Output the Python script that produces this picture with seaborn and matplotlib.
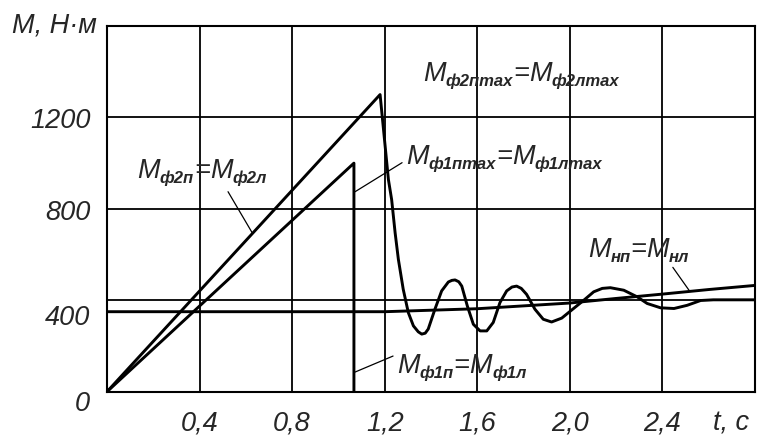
import matplotlib
matplotlib.use("Agg")
import matplotlib.pyplot as plt
import matplotlib.transforms as mtransforms
import seaborn as sns

# M_ф2: ramp, peak, then damped oscillation (t in s, M in N·m)
t_f2 = [0.0, 1.18, 1.216, 1.230, 1.245, 1.259, 1.280, 1.302, 1.324, 1.345, 1.360,
        1.375, 1.388, 1.417, 1.446, 1.475, 1.490, 1.504, 1.520, 1.533, 1.557, 1.583,
        1.612, 1.641, 1.669, 1.698, 1.727, 1.750, 1.770, 1.790, 1.813, 1.849, 1.885,
        1.921, 1.965, 2.016, 2.06, 2.103, 2.140, 2.175, 2.233, 2.291, 2.334, 2.392,
        2.45, 2.507, 2.565, 2.62, 2.8]
m_f2 = [0, 1300, 928, 840, 695, 579, 448, 346, 288, 262, 252,
        256, 274, 361, 441, 480, 487, 489, 481, 462, 375, 295,
        266, 266, 303, 390, 441, 458, 462, 452, 426, 361, 317,
        305, 322, 364, 400, 437, 452, 455, 444, 415, 386, 367,
        364, 378, 399, 402, 402]

# M_ф1: ramp then instant drop
t_f1 = [0.0, 1.067, 1.067]
m_f1 = [0, 1000, 0]

# M_н: load torque
t_n = [0.0, 0.4, 0.8, 1.2, 1.6, 2.0, 2.2, 2.4, 2.6, 2.8]
m_n = [350, 350, 350, 350, 363, 388, 408, 427, 447, 465]

x_ticks = [0.4, 0.8, 1.2, 1.6, 2.0, 2.4]
x_labels = ["0,4", "0,8", "1,2", "1,6", "2,0", "2,4"]
y_ticks = [0, 400, 800, 1200]
y_labels = ["0", "400", "800", "1200"]

FS = 19.5
SUB_FS = 12


def rich_label(ax, x, y, parts):
    # parts: list of (text, is_subscript); drawn one after another on one baseline
    fig = ax.figure
    renderer = fig.canvas.get_renderer()
    dx = 0.0
    for s, sub in parts:
        tr = mtransforms.offset_copy(ax.transData, fig=fig, x=dx, y=-5 if sub else 0,
                                     units="dots")
        t = ax.text(x, y, s, transform=tr, ha="left", va="baseline",
                    fontsize=SUB_FS if sub else FS,
                    fontweight="bold" if sub else "normal")
        dx += t.get_window_extent(renderer).width


def main():
    sns.set_style("white")
    plt.rcParams["font.family"] = ["Liberation Sans", "DejaVu Sans"]
    plt.rcParams["font.style"] = "italic"

    fig = plt.figure(figsize=(7.59, 4.39), dpi=100)
    ax = fig.add_axes([107 / 759, 1 - 392.7 / 439, 648 / 759, 365.7 / 439])

    lw = 2.1
    sns.lineplot(x=t_f2, y=m_f2, ax=ax, color="black", lw=lw, estimator=None, sort=False)
    sns.lineplot(x=t_f1, y=m_f1, ax=ax, color="black", lw=lw, estimator=None, sort=False)
    sns.lineplot(x=t_n, y=m_n, ax=ax, color="black", lw=lw, estimator=None, sort=False)

    ax.set_xlim(0, 2.8)
    ax.set_ylim(0, 1600)
    ax.set_xticks(x_ticks)
    ax.set_xticklabels(x_labels)
    ax.set_yticks(y_ticks)
    ax.set_yticklabels(y_labels)
    ax.grid(True, color="black", lw=1.3)
    ax.set_axisbelow(True)
    for s in ax.spines.values():
        s.set_color("black")
        s.set_linewidth(1.5)
    ax.tick_params(axis="x", length=0, pad=13, labelsize=FS)
    ax.tick_params(axis="y", length=0, pad=12, labelsize=FS)

    # the original prints "0" and "400" a little below their lines
    ylab = ax.get_yticklabels()
    for lab, dy in ((ylab[0], 8), (ylab[1], 14)):
        lab.set_transform(lab.get_transform()
                          + mtransforms.ScaledTranslation(0, -dy / 100, fig.dpi_scale_trans))

    rich_label(ax, 0.13, 941, [("M", False), ("ф2п", True), ("=", False),
                               ("M", False), ("ф2л", True)])
    rich_label(ax, 1.292, 1002, [("M", False), ("ф1пmax", True), ("=", False),
                                 ("M", False), ("ф1лmax", True)])
    rich_label(ax, 1.365, 1364, [("M", False), ("ф2пmax", True), ("=", False),
                                 ("M", False), ("ф2лmax", True)])
    rich_label(ax, 2.078, 592, [("M", False), ("нп", True), ("=", False),
                                ("M", False), ("нл", True)])
    rich_label(ax, 1.253, 86, [("M", False), ("ф1п", True), ("=", False),
                               ("M", False), ("ф1л", True)])

    # leader lines
    for (xa, xb), (ya, yb) in (((0.523, 0.627), (875, 696)),
                               ((1.072, 1.275), (875, 1002)),
                               ((2.445, 2.519), (544, 438)),
                               ((1.072, 1.236), (86, 156))):
        ax.plot([xa, xb], [ya, yb], color="black", lw=0.9)

    fig.text(12 / 759, 1 - 32 / 439, "M, Н·м", fontsize=FS, ha="left", va="baseline")
    fig.text(713 / 759, 1 - 431 / 439, "t, c", fontsize=FS, ha="left", va="baseline")

    fig.savefig("out.png", dpi=100)


if __name__ == "__main__":
    main()
